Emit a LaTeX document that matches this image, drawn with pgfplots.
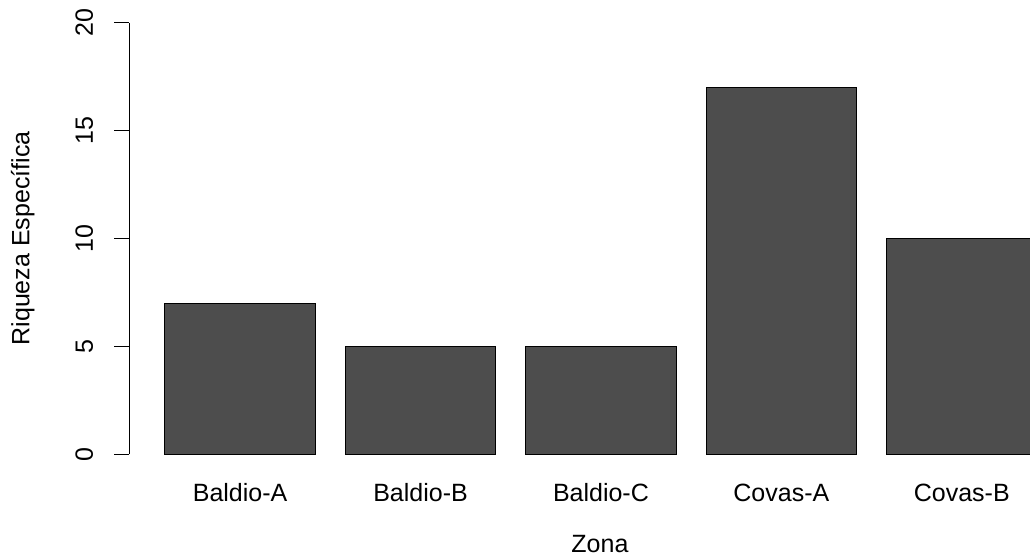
\documentclass[border=0pt]{standalone}
\usepackage{fontspec}
\setmainfont{Liberation Sans}
\usepackage{pgfplots}
\pgfplotsset{compat=1.18}
\definecolor{barfill}{HTML}{4D4D4D}
\begin{document}
\begin{tikzpicture}
\begin{axis}[
  at={(0,0)}, anchor=south west,
  x=150.35pt, y=21.58pt,
  xmin=-0.037, xmax=5.953,
  ymin=0, ymax=20,
  clip=false,
  axis lines*=left,
  x axis line style={draw=none},
  y axis line style={-, line width=1pt, black},
  xtick={0.7,1.9,3.1,4.3,5.5},
  xticklabels={Baldio-A,Baldio-B,Baldio-C,Covas-A,Covas-B},
  xtick style={draw=none},
  ytick={0,5,10,15,20},
  ytick style={line width=1pt, black},
  tick align=outside,
  major tick length=15pt,
  font=\fontsize{25}{30}\selectfont,
  /pgf/number format/assume math mode=true,
  xticklabel style={anchor=base, inner sep=0pt, yshift=-32.4pt},
  yticklabel style={anchor=base, inner sep=0pt, xshift=-21.3pt, rotate=90},
  every axis x label/.style={at={(axis description cs:0.5226,0)}, anchor=base, inner sep=0pt, yshift=-98pt},
  every axis y label/.style={at={(axis description cs:0,0.5)}, anchor=base, inner sep=0pt, xshift=-99.8pt, rotate=90},
  xlabel={Zona},
  ylabel={Riqueza Específica},
]
\addplot[ybar, bar width=1, bar shift=0pt, fill=barfill, draw=black, line width=1pt]
  coordinates {(0.7,7) (1.9,5) (3.1,5) (4.3,17) (5.5,10)};
\end{axis}
\pgfresetboundingbox
\path[use as bounding box] (-129.3pt,-101.7pt) rectangle (900.7pt,454.3pt);
\end{tikzpicture}
\end{document}
